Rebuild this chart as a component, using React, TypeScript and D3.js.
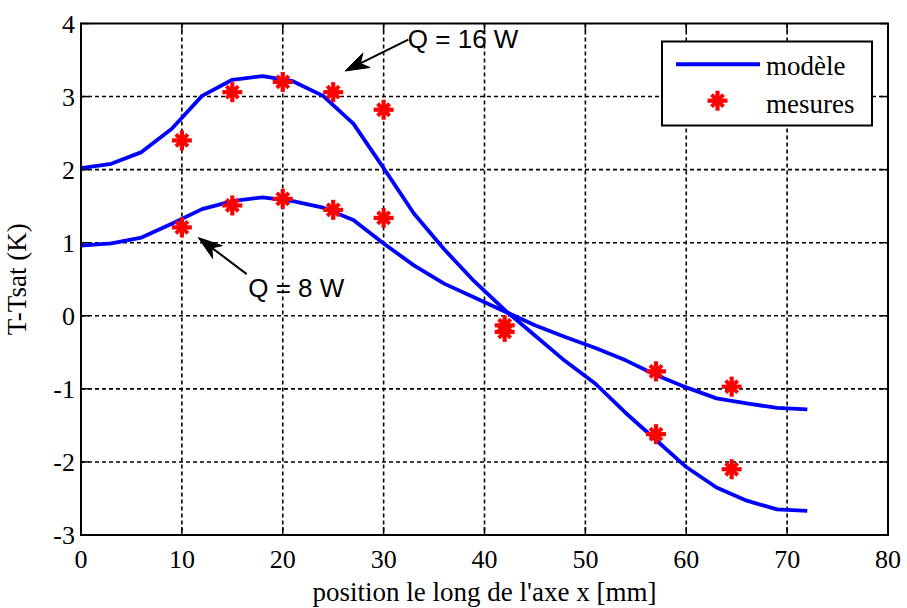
import React from "react";
import * as d3 from "d3";

const xModel = [0, 3, 6, 9, 12, 15, 18, 21, 24, 27, 30, 33, 36, 39, 42, 45, 48, 51, 54, 57, 60, 63, 66, 69, 72];
const model16W = [2.02, 2.08, 2.24, 2.56, 3.01, 3.23, 3.28, 3.21, 3.01, 2.63, 2.02, 1.40, 0.91, 0.47, 0.08, -0.27, -0.62, -0.93, -1.33, -1.70, -2.07, -2.35, -2.53, -2.65, -2.67];
const model8W = [0.96, 0.99, 1.07, 1.26, 1.46, 1.57, 1.62, 1.57, 1.48, 1.31, 0.99, 0.69, 0.44, 0.25, 0.06, -0.13, -0.29, -0.44, -0.61, -0.81, -0.98, -1.13, -1.20, -1.26, -1.28];

const xMes = [10, 15, 20, 25, 30, 42, 57, 64.5];
const mes16W = [2.40, 3.06, 3.20, 3.06, 2.82, -0.22, -1.62, -2.10];
const mes8W = [1.21, 1.51, 1.60, 1.45, 1.34, -0.13, -0.76, -0.97];

const xTicks = [0, 10, 20, 30, 40, 50, 60, 70, 80];
const yTicks = [-3, -2, -1, 0, 1, 2, 3, 4];

const legendLabels = ["modèle", "mesures"];
const xLabel = "position le long de l'axe x [mm]";
const yLabel = "T-Tsat (K)";

// annotations: text, text anchor point (data), arrow start (data), arrow tip (data)
const annotations = [
  { text: "Q = 16 W", tx: 32.4, ty: 3.67, sx: 32.45, sy: 3.78, ex: 26.17, ey: 3.35 },
  { text: "Q = 8 W", tx: 16.58, ty: 0.26, sx: 16.43, sy: 0.57, ex: 11.63, ey: 1.07 },
];

const W = 907;
const H = 608;
const left = 81, right = 888, top = 23.5, bottom = 535;

const x = d3.scaleLinear().domain([0, 80]).range([left, right]);
const y = d3.scaleLinear().domain([-3, 4]).range([bottom, top]);

const serif = "'Liberation Serif', 'Times New Roman', serif";
const sans = "'Liberation Sans', Arial, sans-serif";

function Star({ cx, cy }: { cx: number; cy: number }) {
  const a = 10, d = 6;
  return (
    <g stroke="#ff0000" strokeLinecap="butt">
      <line x1={cx - a} y1={cy} x2={cx + a} y2={cy} strokeWidth={4.2} />
      <line x1={cx} y1={cy - a} x2={cx} y2={cy + a} strokeWidth={4.2} />
      <line x1={cx - d} y1={cy - d} x2={cx + d} y2={cy + d} strokeWidth={4} />
      <line x1={cx - d} y1={cy + d} x2={cx + d} y2={cy - d} strokeWidth={4} />
    </g>
  );
}

function Arrow({ x1, y1, x2, y2 }: { x1: number; y1: number; x2: number; y2: number }) {
  const dx = x2 - x1, dy = y2 - y1;
  const len = Math.hypot(dx, dy);
  const ux = dx / len, uy = dy / len;
  const px = -uy, py = ux;
  const L = 24, hw = 8, notch = 17;
  const bx = x2 - ux * L, by = y2 - uy * L;
  const nx = x2 - ux * notch, ny = y2 - uy * notch;
  const head = `M${x2},${y2} L${bx + px * hw},${by + py * hw} L${nx},${ny} L${bx - px * hw},${by - py * hw} Z`;
  return (
    <g>
      <line x1={x1} y1={y1} x2={nx} y2={ny} stroke="#000" strokeWidth={2} />
      <path d={head} fill="#000" stroke="#000" strokeWidth={1} strokeLinejoin="miter" />
    </g>
  );
}

export default function App() {
  const line = d3
    .line<number>()
    .x((_, i) => x(xModel[i]))
    .y((d) => y(d));

  return (
    <svg width={W} height={H} style={{ position: "absolute", left: 0, top: 0, background: "#fff" }}>
      <rect x={0} y={0} width={W} height={H} fill="#fff" />
      {/* grid */}
      <g stroke="#000" strokeWidth={1.6} strokeDasharray="4,3">
        {xTicks.slice(1, -1).map((t) => (
          <line key={"gx" + t} x1={x(t)} x2={x(t)} y1={top} y2={bottom} />
        ))}
        {yTicks.slice(1, -1).map((t) => (
          <line key={"gy" + t} x1={left} x2={right} y1={y(t)} y2={y(t)} />
        ))}
      </g>
      {/* ticks inward */}
      <g stroke="#000" strokeWidth={1.5}>
        {xTicks.map((t) => (
          <g key={"tx" + t}>
            <line x1={x(t)} x2={x(t)} y1={bottom} y2={bottom - 8} />
            <line x1={x(t)} x2={x(t)} y1={top} y2={top + 8} />
          </g>
        ))}
        {yTicks.map((t) => (
          <g key={"ty" + t}>
            <line x1={left} x2={left + 8} y1={y(t)} y2={y(t)} />
            <line x1={right} x2={right - 8} y1={y(t)} y2={y(t)} />
          </g>
        ))}
      </g>
      {/* model lines */}
      <path d={line(model16W) || ""} fill="none" stroke="#0000ff" strokeWidth={3.8} strokeLinejoin="round" />
      <path d={line(model8W) || ""} fill="none" stroke="#0000ff" strokeWidth={3.8} strokeLinejoin="round" />
      {/* measurements */}
      {xMes.map((xv, i) => (
        <Star key={"m16" + i} cx={x(xv)} cy={y(mes16W[i])} />
      ))}
      {xMes.map((xv, i) => (
        <Star key={"m8" + i} cx={x(xv)} cy={y(mes8W[i])} />
      ))}
      {/* frame */}
      <rect x={left} y={top} width={right - left} height={bottom - top} fill="none" stroke="#000" strokeWidth={2} />
      {/* tick labels */}
      <g fontFamily={serif} fontSize={26} fill="#000">
        {xTicks.map((t) => (
          <text key={"lx" + t} x={x(t)} y={bottom + 33} textAnchor="middle">
            {t}
          </text>
        ))}
        {yTicks.map((t) => (
          <text key={"ly" + t} x={left - 6} y={y(t) + 9} textAnchor="end">
            {t}
          </text>
        ))}
      </g>
      {/* axis labels */}
      <text x={(left + right) / 2} y={601} textAnchor="middle" fontFamily={serif} fontSize={27}>
        {xLabel}
      </text>
      <text transform={`translate(26,${(top + bottom) / 2}) rotate(-90)`} textAnchor="middle" fontFamily={serif} fontSize={27}>
        {yLabel}
      </text>
      {/* annotations */}
      {annotations.map((a) => (
        <g key={a.text}>
          <Arrow x1={x(a.sx)} y1={y(a.sy)} x2={x(a.ex)} y2={y(a.ey)} />
          <text x={x(a.tx)} y={y(a.ty)} fontFamily={sans} fontSize={26} fill="#000">
            {a.text}
          </text>
        </g>
      ))}
      {/* legend */}
      <g>
        <rect x={662} y={41.5} width={210} height={84} fill="#fff" stroke="#000" strokeWidth={2} />
        <line x1={676} x2={760} y1={64.3} y2={64.3} stroke="#0000ff" strokeWidth={4} />
        <Star cx={717.5} cy={100.7} />
        <text x={766} y={75} fontFamily={serif} fontSize={27}>
          {legendLabels[0]}
        </text>
        <text x={766} y={112.5} fontFamily={serif} fontSize={27}>
          {legendLabels[1]}
        </text>
      </g>
    </svg>
  );
}
